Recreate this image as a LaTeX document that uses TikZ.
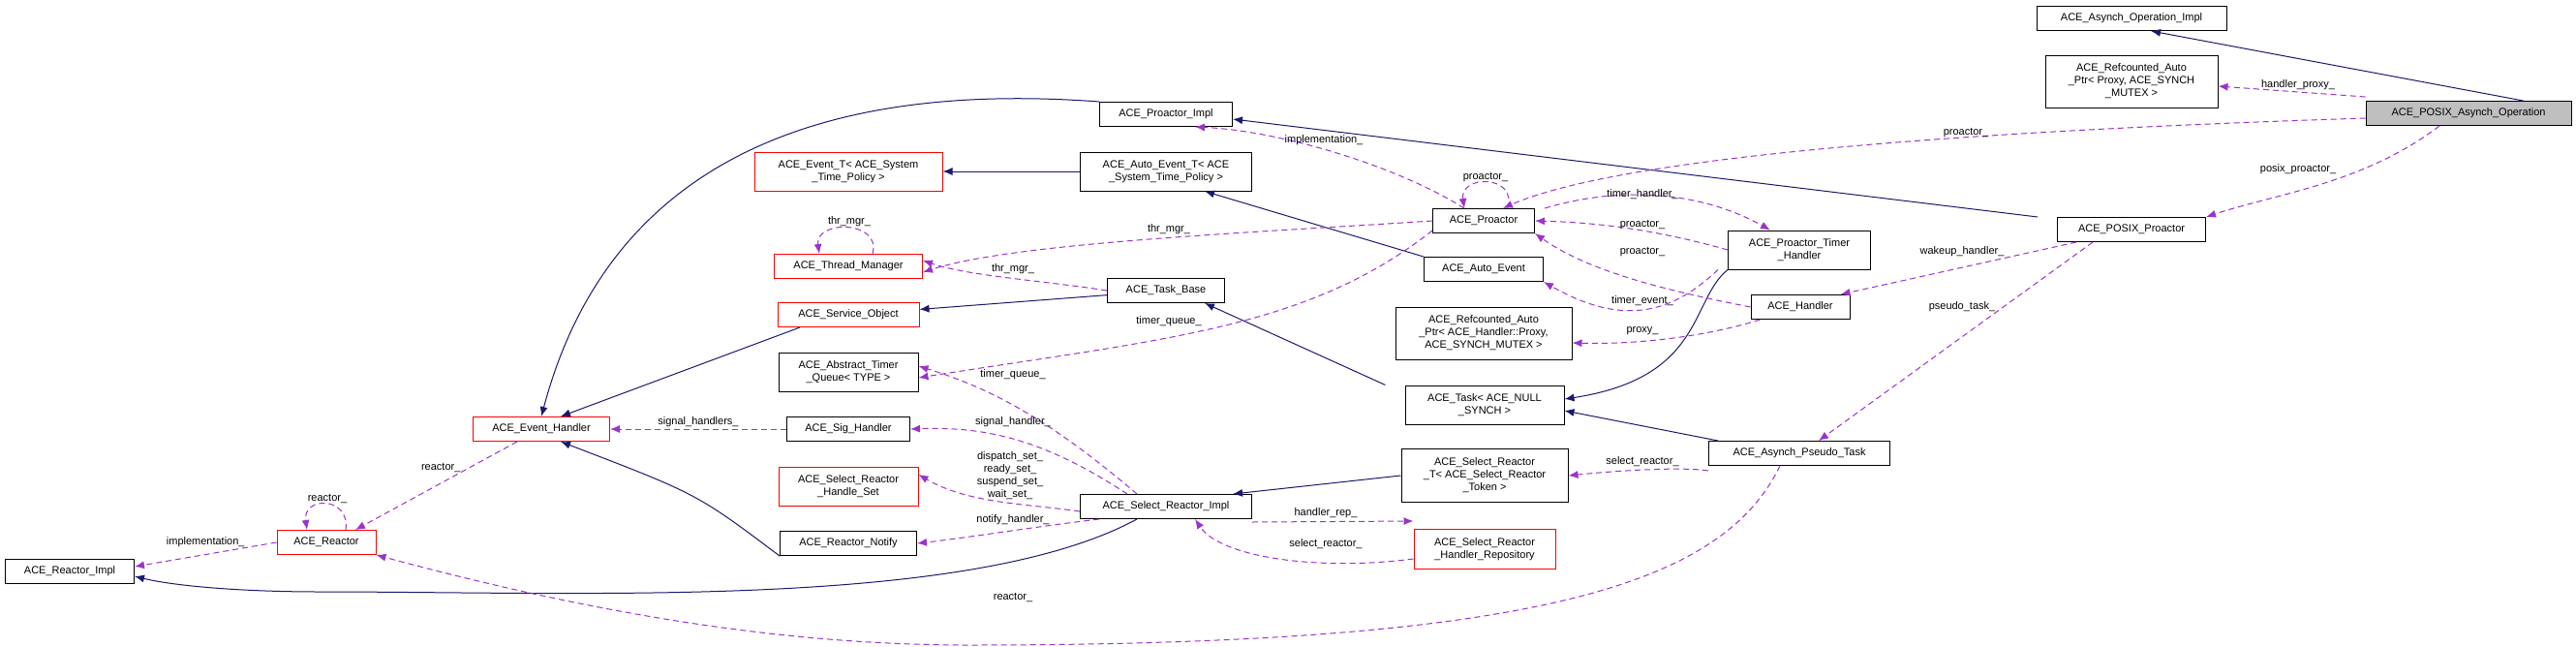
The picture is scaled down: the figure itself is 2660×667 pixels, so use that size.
\documentclass[tikz,border=0pt]{standalone}
\usepackage{fontspec}
\setmainfont{Liberation Sans}
\usepackage{tikz}
\usetikzlibrary{arrows.meta}
\definecolor{Navy}{HTML}{191970}
\definecolor{Purple}{HTML}{9A32CD}
\tikzstyle{cls}=[draw=black,line width=1pt,fill=white,inner sep=0pt,minimum height=25pt,align=center,font=\fontsize{11}{13}\selectfont]
\tikzstyle{red}=[cls,draw=red]
\tikzstyle{lbl}=[inner sep=0pt,font=\fontsize{11}{13}\selectfont,align=center]
\tikzstyle{inh}=[-{Latex[length=10pt,width=8pt]},draw=Navy,line width=1pt]
\tikzstyle{use}=[-{Latex[length=10pt,width=8pt]},draw=Purple,line width=1pt,dash pattern=on 6pt off 4pt]

\begin{document}
\begin{tikzpicture}[x=1pt,y=-1pt]
  \useasboundingbox (0,0) rectangle (2660,667);
  % nodes
  \node [cls,minimum width=133pt] (reactorimpl) at (72,590) {ACE\_Reactor\_Impl};
  \node [red,minimum width=102pt] (reactor) at (337,560) {ACE\_Reactor};
  \node [red,minimum width=141pt] (evhandler) at (559,443) {ACE\_Event\_Handler};
  \node [red,minimum width=194pt,minimum height=40pt] (eventt) at (876,177) {ACE\_Event\_T< ACE\_System\\\_Time\_Policy >};
  \node [red,minimum width=153pt] (thrmgr) at (876,275) {ACE\_Thread\_Manager};
  \node [red,minimum width=146pt] (svcobj) at (876,325) {ACE\_Service\_Object};
  \node [cls,minimum width=144pt,minimum height=40pt] (timerq) at (876,384) {ACE\_Abstract\_Timer\\\_Queue< TYPE >};
  \node [cls,minimum width=127pt] (sighandler) at (876,443) {ACE\_Sig\_Handler};
  \node [red,minimum width=144pt,minimum height=40pt] (handleset) at (876,502) {ACE\_Select\_Reactor\\\_Handle\_Set};
  \node [cls,minimum width=141pt] (notify) at (876,561) {ACE\_Reactor\_Notify};
  \node [cls,minimum width=137pt] (proimpl) at (1204,118) {ACE\_Proactor\_Impl};
  \node [cls,minimum width=177pt,minimum height=40pt] (autoeventt) at (1204,177) {ACE\_Auto\_Event\_T< ACE\\\_System\_Time\_Policy >};
  \node [cls,minimum width=121pt] (taskbase) at (1204,300) {ACE\_Task\_Base};
  \node [cls,minimum width=177pt] (selimpl) at (1204,523) {ACE\_Select\_Reactor\_Impl};
  \node [cls,minimum width=105pt] (proactor) at (1532,228) {ACE\_Proactor};
  \node [cls,minimum width=123pt] (autoevent) at (1532,278) {ACE\_Auto\_Event};
  \node [cls,minimum width=182pt,minimum height=54pt] (hproxy) at (1532,344) {ACE\_Refcounted\_Auto\\\_Ptr< ACE\_Handler::Proxy,\\ACE\_SYNCH\_MUTEX >};
  \node [cls,minimum width=164pt,minimum height=40pt] (task) at (1533,418) {ACE\_Task< ACE\_NULL\\\_SYNCH >};
  \node [cls,minimum width=172pt,minimum height=55pt] (selt) at (1533,491) {ACE\_Select\_Reactor\\\_T< ACE\_Select\_Reactor\\\_Token >};
  \node [red,minimum width=146pt,minimum height=41pt] (handlerrepo) at (1533,567) {ACE\_Select\_Reactor\\\_Handler\_Repository};
  \node [cls,minimum width=147pt,minimum height=40pt] (timerhandler) at (1858,258) {ACE\_Proactor\_Timer\\\_Handler};
  \node [cls,minimum width=102pt] (handler) at (1859,317) {ACE\_Handler};
  \node [cls,minimum width=187pt] (pseudotask) at (1858,468) {ACE\_Asynch\_Pseudo\_Task};
  \node [cls,minimum width=196pt] (opimpl) at (2201,19) {ACE\_Asynch\_Operation\_Impl};
  \node [cls,minimum width=178pt,minimum height=54pt] (proxy) at (2201,84) {ACE\_Refcounted\_Auto\\\_Ptr< Proxy, ACE\_SYNCH\\\_MUTEX >};
  \node [cls,minimum width=153pt] (posixpro) at (2201,237) {ACE\_POSIX\_Proactor};
  \node [cls,minimum width=212pt,fill=black!25] (posixop) at (2549,117) {ACE\_POSIX\_Asynch\_Operation};
  % inheritance
  \draw [inh] (proimpl.north west) .. controls (800,80) and (620,200) .. (evhandler.north);
  \draw [inh] (autoeventt) -- (eventt);
  \draw [inh] (autoevent.north west) -- ([xshift=40pt]autoeventt.south);
  \draw [inh] (taskbase) -- (svcobj);
  \draw [inh] ([xshift=-50pt]svcobj.south) -- ([xshift=20pt]evhandler.north);
  \draw [inh] (notify.south west) .. controls (720,510) .. ([xshift=20pt]evhandler.south);
  \draw [inh] ([xshift=-20pt]task.north west) -- ([xshift=40pt]taskbase.south);
  \draw [inh] (timerhandler.south west) .. controls (1745,310) and (1760,390) .. ([yshift=6pt]task.east);
  \draw [inh] ([xshift=10pt]pseudotask.north west) -- ([yshift=-6pt]task.east);
  \draw [inh] ([xshift=-30pt]selimpl.south) .. controls (1000,630) and (600,611) .. (330,611) .. controls (250,611) and (180,605) .. ([yshift=-5pt]reactorimpl.east);
  \draw [inh] (selt.west) -- ([xshift=-20pt]selimpl.north east);
  \draw [inh] ([xshift=-20pt]posixpro.north west) -- ([yshift=-5pt]proimpl.east);
  \draw [inh] ([xshift=-50pt]posixop.north east) -- ([xshift=20pt]opimpl.south);
  % usage
  \draw [use] (reactor.west) -- ([yshift=5pt]reactorimpl.east) node [lbl,pos=0.5,above=7pt] {implementation\_};
  \draw [use] ([xshift=20pt]reactor.north) .. controls ([xshift=25pt,yshift=35pt]reactor.north) and ([xshift=-25pt,yshift=35pt]reactor.north) .. ([xshift=-20pt]reactor.north);
  \node [lbl] (l1) at (338,515) {reactor\_};
  \draw [use] ([xshift=-25pt]evhandler.south) -- ([xshift=30pt]reactor.north) node [lbl,pos=0.3,left=8pt] {reactor\_};
  \draw [use] (sighandler) -- (evhandler) node [lbl,pos=0.5,above=2pt] {signal\_handlers\_};
  \draw [use] ([xshift=25pt]thrmgr.north) .. controls ([xshift=35pt,yshift=35pt]thrmgr.north) and ([xshift=-35pt,yshift=35pt]thrmgr.north) .. ([xshift=-30pt]thrmgr.north);
  \node [lbl] (l2) at (877,229) {thr\_mgr\_};
  \draw [use] ([xshift=-20pt]proactor.north) .. controls (1440,170) and (1320,135) .. ([xshift=30pt]proimpl.south);
  \node [lbl] (l3) at (1367,145) {implementation\_};
  \draw [use] ([xshift=25pt]proactor.north) .. controls ([xshift=35pt,yshift=35pt]proactor.north) and ([xshift=-25pt,yshift=35pt]proactor.north) .. ([xshift=-20pt]proactor.north);
  \node [lbl] (l4) at (1534,183) {proactor\_};
  \draw [use] (proactor.west) .. controls (1300,240) and (1050,250) .. ([yshift=-6pt]thrmgr.east);
  \node [lbl] (l5) at (1207,237) {thr\_mgr\_};
  \draw [use] (taskbase.west) .. controls (1080,290) and (1000,285) .. ([yshift=6pt]thrmgr.east);
  \node [lbl] (l6) at (1046,278) {thr\_mgr\_};
  \draw [use] ([yshift=3pt]proactor.south west) .. controls (1350,340) and (1200,350) .. ([yshift=-6pt]timerq.east);
  \node [lbl] (l7) at (1207,332) {timer\_queue\_};
  \draw [use] ([xshift=-30pt]selimpl.north) .. controls (1080,430) and (1020,400) .. ([yshift=6pt]timerq.east);
  \node [lbl] (l8) at (1046,387) {timer\_queue\_};
  \draw [use] ([xshift=-40pt]selimpl.north) .. controls (1080,455) and (1020,440) .. (sighandler.east);
  \node [lbl] (l9) at (1046,436) {signal\_handler\_};
  \draw [use] ([yshift=-5pt]selimpl.west) .. controls (1060,520) and (1000,520) .. ([yshift=12pt]handleset.east);
  \node [lbl] (l10) at (1043,491) {dispatch\_set\_\\ready\_set\_\\suspend\_set\_\\wait\_set\_};
  \draw [use] ([xshift=20pt]selimpl.south west) .. controls (1060,545) and (1000,555) .. (notify.east);
  \node [lbl] (l11) at (1046,537) {notify\_handler\_};
  \draw [use] ([yshift=-3pt]selimpl.south east) -- ([yshift=8pt]handlerrepo.north west);
  \node [lbl] (l12) at (1369,530) {handler\_rep\_};
  \draw [use] ([yshift=-10pt]handlerrepo.west) .. controls (1360,590) and (1260,575) .. ([xshift=30pt]selimpl.south);
  \node [lbl] (l13) at (1369,562) {select\_reactor\_};
  \draw [use] ([xshift=10pt]proactor.north east) .. controls (1680,190) and (1760,200) .. ([xshift=-30pt]timerhandler.north);
  \node [lbl] (l14) at (1696,201) {timer\_handler\_};
  \draw [use] (timerhandler.west) .. controls (1720,240) and (1660,230) .. (proactor.east);
  \node [lbl] (l15) at (1696,232) {proactor\_};
  \draw [use] (handler.west) .. controls (1720,300) and (1640,280) .. (proactor.south east);
  \node [lbl] (l16) at (1696,260) {proactor\_};
  \draw [use] ([xshift=-10pt]timerhandler.south west) .. controls (1730,320) and (1680,340) .. (autoevent.south east);
  \node [lbl] (l17) at (1696,311) {timer\_event\_};
  \draw [use] ([xshift=10pt]handler.south west) .. controls (1770,345) and (1700,356) .. ([yshift=-10pt]hproxy.east);
  \node [lbl] (l18) at (1696,342) {proxy\_};
  \draw [use] ([yshift=-5pt]pseudotask.south west) .. controls (1740,482) and (1680,485) .. (selt.east);
  \node [lbl] (l19) at (1696,477) {select\_reactor\_};
  \draw [use] ([xshift=-20pt]pseudotask.south) .. controls (1780,600) and (1600,666) .. (1000,666) .. controls (800,666) and (600,630) .. (reactor.south east);
  \node [lbl] (l20) at (1046,617) {reactor\_};
  \draw [use] ([yshift=4pt]posixop.north west) -- ([yshift=-5pt]proxy.east);
  \node [lbl] (l21) at (2373,88) {handler\_proxy\_};
  \draw [use] ([yshift=-5pt]posixop.west) .. controls (2200,130) and (1700,150) .. ([xshift=20pt]proactor.north);
  \node [lbl] (l22) at (2030,137) {proactor\_};
  \draw [use] ([xshift=-30pt]posixop.south) .. controls (2440,190) and (2350,200) .. (posixpro.north east);
  \node [lbl] (l23) at (2373,175) {posix\_proactor\_};
  \draw [use] ([xshift=20pt]posixpro.south west) -- ([xshift=-10pt]handler.north east);
  \node [lbl] (l24) at (2026,260) {wakeup\_handler\_};
  \draw [use] ([xshift=-40pt]posixpro.south) -- ([xshift=20pt]pseudotask.north);
  \node [lbl] (l25) at (2026,317) {pseudo\_task\_};
\end{tikzpicture}
\end{document}
